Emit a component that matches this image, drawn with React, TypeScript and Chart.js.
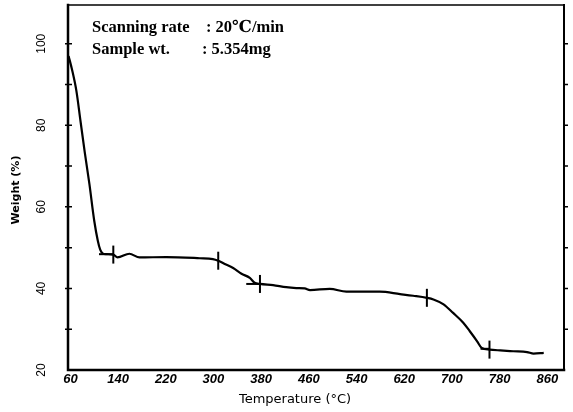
import { useEffect, useRef } from 'react';
import { Chart, registerables } from 'chart.js';

Chart.register(...registerables);

// Main TGA curve (temperature °C, weight %)
const temperatures = [57, 63, 70, 77, 84, 92, 100, 106, 110, 114, 120, 132, 139, 159, 176, 221, 277, 299, 308, 319, 333, 347, 361, 369, 378, 400, 422, 439, 453, 462, 495, 523, 579, 613, 635, 658, 669, 686, 702, 719, 730, 742, 750, 763, 781, 803, 826, 837, 854];
const weights = [97.0, 93.5, 88.5, 81.0, 73.5, 65.5, 56.6, 51.7, 49.5, 48.6, 48.4, 48.3, 47.6, 48.5, 47.6, 47.7, 47.4, 47.2, 46.8, 46.0, 45.0, 43.6, 42.6, 41.4, 41.1, 40.8, 40.3, 40.1, 40.0, 39.6, 39.9, 39.2, 39.2, 38.6, 38.2, 37.7, 37.3, 36.1, 34.0, 31.6, 29.5, 27.1, 25.4, 25.0, 24.8, 24.6, 24.4, 24.0, 24.2];

// Step markers
const markerTemps = [132, 308, 378, 658, 763];
const markerWeights = [48.3, 46.8, 41.1, 37.7, 25.0];

// Horizontal tangent feet
const tangentStart = [108, 355, 748];
const tangentEnd = [132, 378, 763];
const tangentWeight = [48.4, 41.1, 25.2];

const xTickValues = [60, 140, 220, 300, 380, 460, 540, 620, 700, 780, 860];
const yLabelValues = [20, 40, 60, 80, 100];
const yTickValues = [20, 30, 40, 50, 60, 70, 80, 90, 100];

const xTitle = 'Temperature (°C)';
const yTitle = 'Weight (%)';
const noteLabels = ['Scanning rate', 'Sample wt.'];
const noteValues = [': 20℃/min', ': 5.354mg'];

export default function App() {
  const ref = useRef<HTMLCanvasElement>(null);

  useEffect(() => {
    document.body.style.margin = '0';
    const canvas = ref.current;
    if (!canvas) return;

    const framePlugin = {
      id: 'framePlugin',
      afterDraw(chart: any) {
        const ctx = chart.ctx;
        const { left, right, top, bottom } = chart.chartArea;
        const y = chart.scales.y;
        ctx.save();
        ctx.strokeStyle = '#000';
        ctx.lineCap = 'square';
        // frame
        ctx.lineWidth = 1.5;
        ctx.beginPath();
        ctx.moveTo(left, top);
        ctx.lineTo(right, top);
        ctx.stroke();
        ctx.lineWidth = 2;
        ctx.beginPath();
        ctx.moveTo(right, top);
        ctx.lineTo(right, bottom);
        ctx.stroke();
        ctx.lineWidth = 2.5;
        ctx.beginPath();
        ctx.moveTo(left, top);
        ctx.lineTo(left, bottom);
        ctx.lineTo(right, bottom);
        ctx.stroke();
        // y ticks
        ctx.lineWidth = 1.5;
        ctx.lineCap = 'butt';
        yTickValues.forEach((v) => {
          const py = y.getPixelForValue(v);
          if (v === 20) return;
          ctx.beginPath();
          ctx.moveTo(left - 3, py);
          ctx.lineTo(left + 4, py);
          ctx.moveTo(right, py);
          ctx.lineTo(right + 4, py);
          ctx.stroke();
        });
        // y tick labels (rotated)
        ctx.fillStyle = '#000';
        ctx.font = '12px "Liberation Sans", Arial, sans-serif';
        ctx.textAlign = 'center';
        ctx.textBaseline = 'middle';
        yLabelValues.forEach((v) => {
          const py = y.getPixelForValue(v);
          ctx.save();
          ctx.translate(42, py);
          ctx.rotate(-Math.PI / 2);
          ctx.fillText(String(v), 0, 0);
          ctx.restore();
        });
        // y title
        ctx.save();
        ctx.font = 'bold 11px "DejaVu Sans", sans-serif';
        ctx.translate(16, 190);
        ctx.rotate(-Math.PI / 2);
        ctx.fillText(yTitle, 0, 0);
        ctx.restore();
        // x title
        ctx.font = '13px "DejaVu Sans", sans-serif';
        ctx.fillText(xTitle, 295, 400);
        // notes
        ctx.textAlign = 'left';
        ctx.font = 'bold 16.5px "Liberation Serif", "DejaVu Serif", serif';
        ctx.fillText(noteLabels[0], 92, 28);
        ctx.fillText(noteValues[0], 206, 28);
        ctx.fillText(noteLabels[1], 92, 50);
        ctx.fillText(noteValues[1], 202, 50);
        ctx.restore();
      },
    };

    const tangentDatasets = tangentStart.map((s, i) => ({
      type: 'line' as const,
      data: [
        { x: s, y: tangentWeight[i] },
        { x: tangentEnd[i], y: tangentWeight[i] },
      ],
      borderColor: '#000',
      borderWidth: 2,
      pointRadius: 0,
    }));

    const chart = new Chart(canvas, {
      type: 'line',
      data: {
        datasets: [
          {
            data: temperatures.map((t, i) => ({ x: t, y: weights[i] })),
            borderColor: '#000',
            borderWidth: 2.2,
            pointRadius: 0,
            cubicInterpolationMode: 'monotone',
          },
          ...tangentDatasets,
          {
            type: 'scatter' as const,
            data: markerTemps.map((t, i) => ({ x: t, y: markerWeights[i] })),
            showLine: false,
            pointStyle: 'line',
            rotation: 90,
            pointRadius: 9,
            borderColor: '#000',
            borderWidth: 2,
            backgroundColor: '#000',
          },
        ] as any,
      },
      options: {
        animation: false,
        responsive: false,
        events: [],
        layout: { autoPadding: false, padding: { left: 68, right: 9, top: 5, bottom: 0 } },
        plugins: { legend: { display: false }, tooltip: { enabled: false } },
        scales: {
          x: {
            type: 'linear',
            min: 56,
            max: 888,
            grid: { display: false, drawTicks: false },
            border: { display: false },
            afterBuildTicks: (scale: any) => {
              scale.ticks = xTickValues.map((v) => ({ value: v }));
            },
            afterFit: (scale: any) => {
              scale.height = 42;
              scale.paddingLeft = 0;
              scale.paddingRight = 0;
            },
            ticks: {
              autoSkip: false,
              maxRotation: 0,
              minRotation: 0,
              padding: 2,
              color: '#000',
              font: { family: '"Liberation Sans", Arial, sans-serif', size: 13, style: 'italic', weight: 'bold' },
            },
          },
          y: {
            type: 'linear',
            display: false,
            min: 20,
            max: 109.5,
          },
        },
      },
      plugins: [framePlugin],
    });

    return () => chart.destroy();
  }, []);

  return (
    <div style={{ width: 573, height: 412, background: '#fff' }}>
      <canvas ref={ref} width={573} height={412} />
    </div>
  );
}
